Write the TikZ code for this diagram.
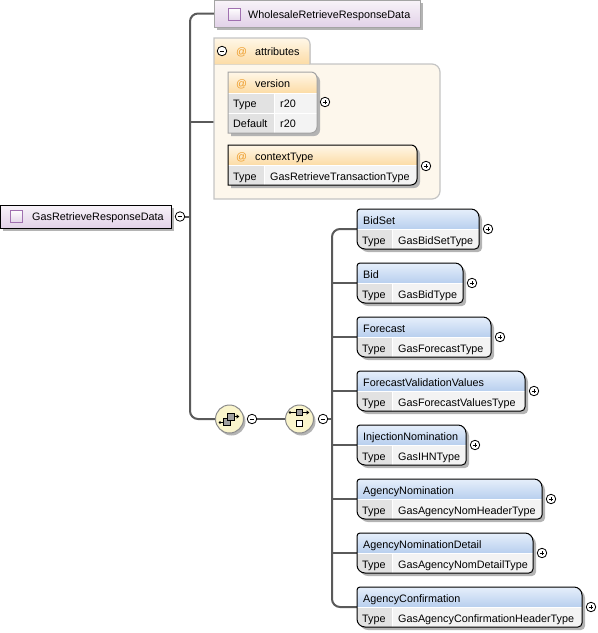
\documentclass[tikz,border=0pt]{standalone}
\usepackage{fontspec}
\setmainfont{Liberation Sans}
\usetikzlibrary{backgrounds}
\definecolor{linegray}{HTML}{5A5A5A}
\definecolor{shadowgray}{HTML}{B4B4B4}
\definecolor{purtop}{HTML}{F8F3F9}
\definecolor{purbot}{HTML}{E2D2E8}
\definecolor{iconborder}{HTML}{A070B0}
\definecolor{iconfill}{HTML}{E6D8EB}
\definecolor{bluetop}{HTML}{E6EFFB}
\definecolor{bluebot}{HTML}{B8CFEE}
\definecolor{labcell}{HTML}{E2E2E2}
\definecolor{valcell}{HTML}{F3F3F3}
\definecolor{orangetop}{HTML}{FFF7E8}
\definecolor{orangebot}{HTML}{FCDCA6}
\definecolor{attrfill}{HTML}{FDF7EC}
\definecolor{attrborder}{HTML}{C4C4C4}
\definecolor{atcolor}{HTML}{EE9E2E}
\definecolor{compfill}{HTML}{FAF5CC}
\definecolor{compborder}{HTML}{8C8C8C}
\definecolor{grayborder}{HTML}{A4A4A4}
\definecolor{icongray}{HTML}{A0A0A0}

\tikzset{
  txt/.style={anchor=base west, inner sep=0pt, font=\fontsize{10.8pt}{12pt}\selectfont},
  attxt/.style={txt, text=atcolor},
  conn/.style={draw=linegray, line width=2pt},
  pm/.style={circle, draw=black, fill=white, line width=0.8pt, minimum size=9.5pt, inner sep=0pt},
  anchorbox/.style={anchor=north west, inner sep=0pt, outer sep=0pt},
  comp/.style={circle, draw=compborder, fill=compfill, line width=1pt, minimum size=28pt, inner sep=0pt},
}

\newcommand\elpath[4]{({#1},{#2+#4/2}) [rounded corners=3pt] |- ({#1+#3/2},{#2}) [rounded corners=8pt] -| ({#1+#3},{#2+#4/2}) [rounded corners=4pt] |- ({#1+#3/2},{#2+#4}) [rounded corners=8pt] -| ({#1},{#2+#4/2}) -- cycle}
\newcommand\atpath[4]{({#1},{#2}) -- ({#1+#3/2},{#2}) [rounded corners=6pt] -- ({#1+#3},{#2}) -- ({#1+#3},{#2+#4}) -- ({#1+#3/2},{#2+#4}) [sharp corners] -- ({#1},{#2+#4}) -- cycle}

\newcommand\pmsign[4]{%
  \node[pm] (#1) at ({#2},{#3}) {};
  \draw[line width=0.8pt] ([xshift=-2.4pt]#1.center) -- ([xshift=2.4pt]#1.center);
  \if#4+\draw[line width=0.8pt] ([yshift=-2.4pt]#1.center) -- ([yshift=2.4pt]#1.center);\fi}

\newcommand\childbox[6]{%
  \fill[shadowgray] \elpath{#2+3}{#3+3}{#4}{40};
  \begin{scope}
    \clip \elpath{#2}{#3}{#4}{40};
    \fill[top color=bluetop, bottom color=bluebot] ({#2},{#3}) rectangle ({#2+#4},{#3+20});
    \fill[labcell] ({#2},{#3+20}) rectangle ({#2+35},{#3+40});
    \fill[valcell] ({#2+35},{#3+20}) rectangle ({#2+#4},{#3+40});
    \draw[white, line width=1pt] ({#2},{#3+20}) -- ({#2+#4},{#3+20}) ({#2+35},{#3+20}) -- ({#2+35},{#3+40});
  \end{scope}
  \draw[black, line width=1pt] \elpath{#2}{#3}{#4}{40};
  \node[anchorbox, minimum width=#4pt, minimum height=40pt] (#1) at ({#2},{#3}) {};
  \node[txt] (#1-n) at ({#2+6},{#3+15}) {#5};
  \node[txt] (#1-l) at ({#2+5},{#3+35}) {Type};
  \node[txt] (#1-v) at ({#2+41},{#3+35}) {#6};
  \pmsign{#1-p}{#2+#4+9}{#3+20}{+}}

\begin{document}
\begin{tikzpicture}[x=1pt,y=-1pt]
\useasboundingbox (0,0) rectangle (598,633);

% ---------- root element
\fill[shadowgray] (3,208) rectangle (174,231);
\draw[black, line width=1pt, top color=purtop, bottom color=purbot] (0.5,205) rectangle (171,228);
\node[anchorbox, minimum width=171pt, minimum height=23pt] (root) at (0,205) {};
\draw[iconborder, line width=0.8pt, top color=white, bottom color=iconfill] (10,210) rectangle (22,222);
\node[txt] (root-t) at (32,220.5) {GasRetrieveResponseData};
\pmsign{rootm}{180}{216.5}{-}

% ---------- WholesaleRetrieveResponseData
\fill[shadowgray] (217,3) rectangle (423,30);
\draw[grayborder, line width=1pt, top color=purtop, bottom color=purbot] (214,0.5) rectangle (420,27);
\node[anchorbox, minimum width=206pt, minimum height=27pt] (wholesale) at (214,0) {};
\draw[iconborder, line width=0.8pt, top color=white, bottom color=iconfill] (228,8) rectangle (240,20);
\node[txt] (wholesale-t) at (248,18) {WholesaleRetrieveResponseData};

% ---------- attributes group
\fill[attrfill] (214,64) -- (327,64) [rounded corners=8pt] -- (440,64) -- (440,199) -- (327,199) [sharp corners] -- (214,199) -- cycle;
\fill[top color=orangetop, bottom color=orangebot] (214,38) -- (262,38) [rounded corners=6pt] -- (310,38) -- (310,51) [sharp corners] -- (310,64) -- (214,64) -- cycle;
\draw[attrborder, line width=1.2pt] (214,120) -- (214,38) -- (262,38) [rounded corners=6pt] -- (310,38) -- (310,51) [sharp corners] -- (310,64) -- (327,64) [rounded corners=8pt] -- (440,64) -- (440,199) -- (327,199) [sharp corners] -- (214,199) -- cycle;
\node[anchor=west, inner sep=0pt, minimum width=226pt, minimum height=154pt] (attrs) at (214,122) {};
\pmsign{attrsm}{222}{51}{-}
\node[attxt] (attrs-at) at (236,55) {@};
\node[txt] (attrs-t) at (255,55) {attributes};

% version attribute
\fill[shadowgray] \atpath{231}{75}{89}{61};
\begin{scope}
  \clip \atpath{228}{72}{89}{61};
  \fill[top color=orangetop, bottom color=orangebot] (228,72) rectangle (317,93);
  \fill[labcell] (228,93) rectangle (274,133);
  \fill[valcell] (274,93) rectangle (317,133);
  \draw[white, line width=1pt] (228,93) -- (317,93) (228,113) -- (317,113) (274,93) -- (274,133);
\end{scope}
\draw[grayborder, line width=1pt] \atpath{228}{72}{89}{61};
\node[anchorbox, minimum width=89pt, minimum height=61pt] (version) at (228,72) {};
\node[attxt] (version-at) at (236,87) {@};
\node[txt] (version-n) at (255,87) {version};
\node[txt] (version-l1) at (233,107) {Type};
\node[txt] (version-v1) at (280,107) {r20};
\node[txt] (version-l2) at (233,127) {Default};
\node[txt] (version-v2) at (280,127) {r20};
\pmsign{version-p}{325}{102}{+}

% contextType attribute
\fill[shadowgray] \atpath{231}{148}{189}{40};
\begin{scope}
  \clip \atpath{228}{145}{189}{40};
  \fill[top color=orangetop, bottom color=orangebot] (228,145) rectangle (417,165);
  \fill[labcell] (228,165) rectangle (264,185);
  \fill[valcell] (264,165) rectangle (417,185);
  \draw[white, line width=1pt] (228,165) -- (417,165) (264,165) -- (264,185);
\end{scope}
\draw[black, line width=1pt] \atpath{228}{145}{189}{40};
\node[anchorbox, minimum width=189pt, minimum height=40pt] (ctx) at (228,145) {};
\node[attxt] (ctx-at) at (236,160) {@};
\node[txt] (ctx-n) at (255,160) {contextType};
\node[txt] (ctx-l) at (233,180) {Type};
\node[txt] (ctx-v) at (270,180) {GasRetrieveTransactionType};
\pmsign{ctx-p}{426}{166}{+}

% ---------- sequence compositor
\fill[shadowgray] (231.5,421.5) circle (14pt);
\node[comp] (seq) at (229.5,419) {};
\fill (220,422.5) circle (1.3pt);
\draw[line width=0.8pt] (220,422.5) -- (224,422.5);
\draw[line width=0.6pt, fill=icongray] (223.5,418.5) rectangle (230,425);
\draw[line width=0.6pt, fill=icongray] (227.5,413.5) rectangle (234,420);
\draw[line width=0.8pt] (234,416.5) -- (237,416.5);
\fill (236.5,414.3) -- (239.3,416.5) -- (236.5,418.7) -- cycle;
\pmsign{seqm}{252}{419}{-}

% ---------- choice compositor
\fill[shadowgray] (301.5,421.5) circle (14pt);
\node[comp] (choice) at (299.5,419) {};
\fill (290,412.5) circle (1.3pt);
\draw[line width=0.8pt] (290,412.5) -- (307,412.5);
\fill (306.5,410.3) -- (309.3,412.5) -- (306.5,414.7) -- cycle;
\draw[line width=0.6pt, fill=icongray] (296.5,409) rectangle (302.5,415.5);
\draw[line width=0.6pt, fill=white] (296.5,420) rectangle (302.5,426.5);
\pmsign{choicem}{323}{419}{-}

% ---------- children
\childbox{bidset}{357}{209}{122}{BidSet}{GasBidSetType}
\childbox{bid}{357}{263}{106}{Bid}{GasBidType}
\childbox{forecast}{357}{317}{134}{Forecast}{GasForecastType}
\childbox{fvv}{357}{371}{168}{ForecastValidationValues}{GasForecastValuesType}
\childbox{injnom}{357}{425}{109}{InjectionNomination}{GasIHNType}
\childbox{agnom}{357}{479}{185}{AgencyNomination}{GasAgencyNomHeaderType}
\childbox{agnomdet}{357}{533}{176}{AgencyNominationDetail}{GasAgencyNomDetailType}
\childbox{agconf}{357}{587}{225}{AgencyConfirmation}{GasAgencyConfirmationHeaderType}

% ---------- connectors
\coordinate (bus1) at (190,216.5);
\coordinate (bus2) at (332,419);
\begin{scope}[on background layer]
  \draw[conn] (rootm.east) -- (bus1);
  \draw[conn, rounded corners=8pt] (wholesale.west) -| (bus1) |- (seq.west);
  \draw[conn] (attrs.west -| bus1) -- (attrs.west);
  \draw[conn] (seqm.east) -- (choice.west);
  \draw[conn] (choicem.east) -- (bus2);
  \draw[conn, rounded corners=8pt] (bidset.west) -| (bus2) |- (agconf.west);
  \foreach \c in {bid,forecast,fvv,injnom,agnom,agnomdet}
    \draw[conn] (\c.west -| bus2) -- (\c.west);
\end{scope}
\end{tikzpicture}
\end{document}
